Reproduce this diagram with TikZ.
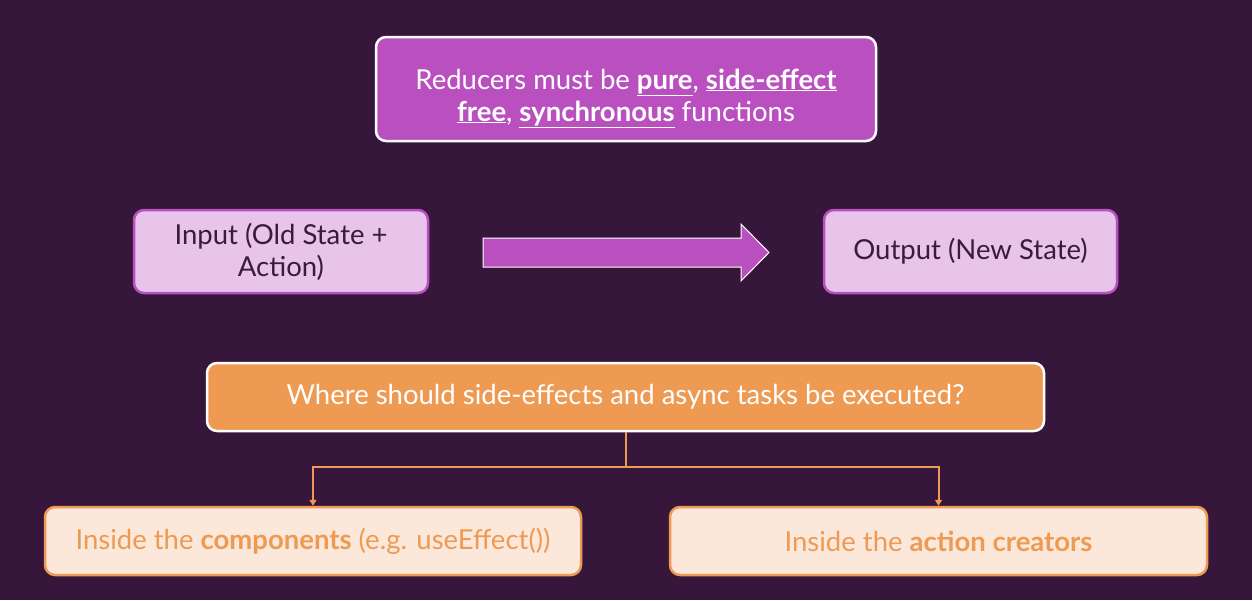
\documentclass[tikz,border=0pt]{standalone}
\usepackage{fontspec}
\setmainfont{Lato}
\usetikzlibrary{arrows.meta}
\definecolor{bg}{HTML}{36163A}
\definecolor{violet}{HTML}{BA50BF}
\definecolor{lilac}{HTML}{E8C3EA}
\definecolor{orng}{HTML}{EE9A52}
\definecolor{peach}{HTML}{FCE8DA}
\definecolor{plumtext}{HTML}{3A1A3E}
\newcommand{\ul}[1]{\underline{\textbf{#1}}}
\tikzset{
  box/.style={rounded corners=10pt, line width=2.5pt, align=center, font=\fontsize{27.5}{32}\selectfont, inner sep=0pt},
  topbox/.style={box, fill=violet, draw=white, text=white},
  lilacbox/.style={box, fill=lilac, draw=violet, text=plumtext},
  qbox/.style={box, fill=orng, draw=white, text=white},
  ansbox/.style={box, fill=peach, draw=orng, text=orng},
  conn/.style={draw=orng, line width=2pt, -{Triangle[length=6pt,width=7pt]}}
}
\begin{document}
\begin{tikzpicture}[x=1pt,y=-1pt]
\fill[bg] (0,0) rectangle (1252,600);
\useasboundingbox (0,0) rectangle (1252,600);
\node[topbox, minimum width=500pt, minimum height=104pt, text depth=0pt] (top) at (626,89) {\raisebox{5pt}{\parbox{480pt}{\centering Reducers must be \ul{pure}, \ul{side-effect}\\ \ul{free}, \ul{synchronous} functions}}};
\node[lilacbox, minimum width=294pt, minimum height=83pt] (in) at (281,251.5) {Input (Old State +\\ Action)};
\node[lilacbox, minimum width=293pt, minimum height=83pt] (out) at (970.5,251.5) {Output (New State)};
\draw[fill=violet, draw=white, line width=1pt] (483,238) -- (741,238) -- (741,224) -- (769,252.5) -- (741,281) -- (741,267) -- (483,267) -- cycle;
\node[qbox, minimum width=837pt, minimum height=68pt] (q) at (625.5,397) {Where should side-effects and async tasks be executed?};
\node[ansbox, minimum width=536pt, minimum height=68pt] (a1) at (313,541) {Inside the \textbf{components} (e.g. useEffect())};
\node[ansbox, minimum width=537pt, minimum height=68pt] (a2) at (938.5,541) {Inside the \textbf{action creators}};
\coordinate (mid) at (625.5,467);
\draw[draw=orng, line width=2pt] (q.south) -- (mid);
\draw[conn] (mid) -| (a1.north);
\draw[conn] (mid) -| (a2.north);
\end{tikzpicture}
\end{document}
